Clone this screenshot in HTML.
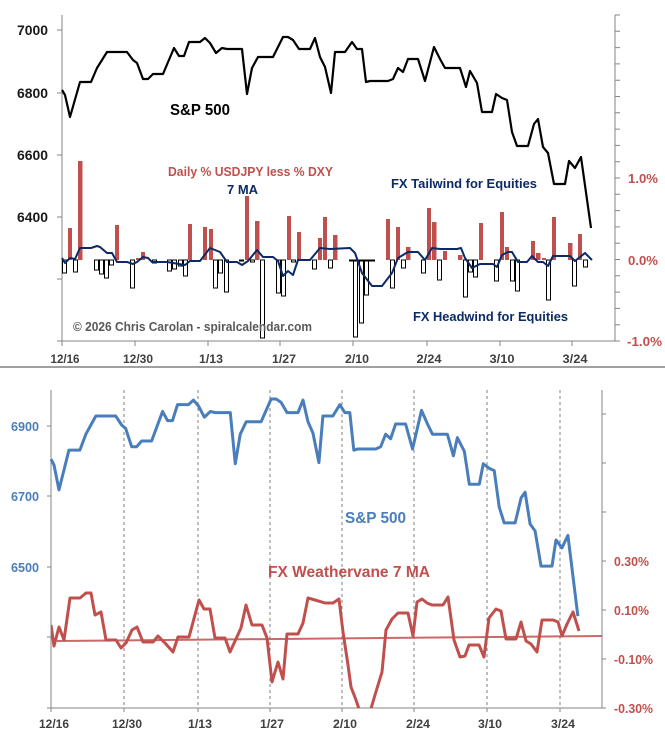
<!DOCTYPE html>
<html><head><meta charset="utf-8"><style>
html,body{margin:0;padding:0;background:#fff;}
svg{display:block;}
text{font-family:"Liberation Sans",sans-serif;font-weight:bold;}
</style></head><body>
<svg width="665" height="742" viewBox="0 0 665 742" xmlns="http://www.w3.org/2000/svg">
<rect width="665" height="742" fill="#fff"/>
<defs><clipPath id="cb"><rect x="51" y="390" width="551" height="318"/></clipPath></defs>

<!-- ===== TOP CHART ===== -->
<g stroke="#868686" stroke-width="1" fill="none">
<line x1="62" y1="15" x2="62" y2="341"/>
<line x1="62" y1="341" x2="615" y2="341"/>
<line x1="615" y1="15" x2="615" y2="341"/>
<path d="M57 30H62M57 93H62M57 155H62M57 217H62M57 279H62M57 341H62"/>
<path d="M62 341V346M135 341V346M208 341V346M280 341V346M353 341V346M427 341V346M500 341V346M572 341V346"/>
<path d="M615 15H620M615 31.3H620M615 47.6H620M615 63.9H620M615 80.2H620M615 96.5H620M615 112.8H620M615 129.1H620M615 145.4H620M615 161.7H620M615 178H620M615 194.3H620M615 210.6H620M615 226.9H620M615 243.2H620M615 259.5H620M615 275.8H620M615 292.1H620M615 308.4H620M615 324.7H620M615 341H620"/>
</g>

<!-- red bars -->
<g fill="#C0504D">
<rect x="68" y="228" width="4" height="32"/>
<rect x="78" y="161" width="4.5" height="99"/>
<rect x="115" y="225" width="4" height="35"/>
<rect x="136" y="258" width="4" height="2"/>
<rect x="141" y="252" width="4" height="8"/>
<rect x="188" y="224" width="4" height="36"/>
<rect x="203" y="227" width="4" height="33"/>
<rect x="209" y="229" width="4" height="31"/>
<rect x="245" y="196" width="4" height="64"/>
<rect x="255" y="221" width="4.5" height="39"/>
<rect x="287" y="216" width="4" height="44"/>
<rect x="297" y="232" width="4" height="28"/>
<rect x="318" y="238" width="4" height="22"/>
<rect x="323" y="217" width="4" height="43"/>
<rect x="333" y="235" width="4.5" height="25"/>
<rect x="386" y="219" width="4" height="41"/>
<rect x="396" y="227" width="4" height="33"/>
<rect x="406" y="247" width="4.5" height="13"/>
<rect x="427" y="208" width="4" height="52"/>
<rect x="432" y="222" width="4.5" height="38"/>
<rect x="443" y="251" width="4" height="9"/>
<rect x="458" y="255" width="4.5" height="5"/>
<rect x="479" y="223" width="4" height="37"/>
<rect x="500" y="212" width="4" height="48"/>
<rect x="505" y="247" width="4" height="13"/>
<rect x="531" y="241" width="4" height="19"/>
<rect x="536" y="253" width="4.5" height="7"/>
<rect x="542" y="258" width="4" height="2"/>
<rect x="552" y="217" width="4" height="43"/>
<rect x="568" y="243" width="4.5" height="17"/>
<rect x="578" y="234" width="4" height="26"/>
</g>
<!-- white bars -->
<g fill="#fff" stroke="#000" stroke-width="1">
<rect x="62.5" y="260" width="4" height="13"/>
<rect x="73.5" y="260" width="4" height="12"/>
<rect x="94.5" y="260" width="4" height="10"/>
<rect x="99.5" y="260" width="4" height="14"/>
<rect x="104.5" y="260" width="4" height="18"/>
<rect x="109.5" y="260" width="4" height="5"/>
<rect x="130.5" y="260" width="4" height="28"/>
<rect x="152.5" y="260" width="4" height="3"/>
<rect x="167.5" y="260" width="4" height="11"/>
<rect x="172.5" y="260" width="4" height="9"/>
<rect x="178.5" y="260" width="4" height="6"/>
<rect x="183.5" y="260" width="4" height="16"/>
<rect x="213.5" y="260" width="4" height="28"/>
<rect x="218.5" y="260" width="4" height="13"/>
<rect x="224.5" y="260" width="4" height="32"/>
<rect x="239.5" y="260" width="4" height="1"/>
<rect x="250.5" y="260" width="4" height="2"/>
<rect x="260.5" y="260" width="4" height="78"/>
<rect x="276.5" y="260" width="4" height="33"/>
<rect x="281.5" y="260" width="4" height="36"/>
<rect x="291.5" y="260" width="4" height="2"/>
<rect x="312.5" y="260" width="4" height="9"/>
<rect x="328.5" y="260" width="4" height="8"/>
<rect x="353.5" y="260" width="4" height="77"/>
<rect x="359.5" y="260" width="4" height="63"/>
<rect x="364.5" y="260" width="4" height="35"/>
<rect x="390.5" y="260" width="4" height="28"/>
<rect x="401.5" y="260" width="4" height="8"/>
<rect x="421.5" y="260" width="4" height="13"/>
<rect x="437.5" y="260" width="4" height="20"/>
<rect x="463.5" y="260" width="4" height="37"/>
<rect x="468.5" y="260" width="4" height="12"/>
<rect x="473.5" y="260" width="4" height="17"/>
<rect x="494.5" y="260" width="4" height="21"/>
<rect x="510.5" y="260" width="4" height="21"/>
<rect x="515.5" y="260" width="4" height="31"/>
<rect x="546.5" y="260" width="4" height="40"/>
<rect x="572.5" y="260" width="4" height="26"/>
<rect x="583.5" y="260" width="4" height="7"/>
</g>
<line x1="349" y1="260.5" x2="375" y2="260.5" stroke="#000" stroke-width="2"/>

<!-- 7 MA -->
<polyline fill="none" stroke="#0B2A66" stroke-width="2" stroke-linejoin="round" points="62,258 65,263 70,258 75,259 80,248 91,248 97,246 100,247 107,253 112,253 117,262 127,262 133,264 137,262 143,257 148,258 152,262 167,262 173,263 185,265 190,261 200,261 210,248 220,252 227,262 237,262 242,265 248,261 257,250 263,257 273,257 278,261 283,276 288,271 293,275 298,260 310,260 320,248 330,249 350,248 355,253 362,273 372,286 382,286 392,273 398,258 408,252 418,252 425,260 432,248 440,249 457,249 461,248 465,258 472,268 480,264 493,264 497,267 502,255 508,252 512,252 518,262 527,262 532,256 538,262 543,262 548,266 553,256 570,256 575,261 585,253 592,260"/>

<!-- S&P top -->
<polyline id="spx" fill="none" stroke="#000" stroke-width="2.2" stroke-linejoin="round" points="62,90 65,95 70,117 80,82 91,82 97,68 107,52 127,52 133,60 137,63 143,79 148,79 153,74 163,74 174,48 179,56 184,56 189,42 200,42 205,38 210,43 216,53 222,48 227,49 242,49 247,94 252,68 258,57 273,57 283,37 288,37 293,40 299,49 310,49 315,38 320,57 325,67 331,93 335,52 345,52 352,42 357,49 362,49 366,82 370,81 388,81 393,79 398,68 403,72 408,59 418,59 425,81 434,47 440,59 445,68 460,68 466,87 470,71 477,83 482,112 492,112 496,94 502,98 507,100 512,132 517,146 528,146 534,124 538,119 543,147 548,153 554,184 565,184 569,161 575,168 581,157 591,228"/>

<!-- top labels -->
<g fill="#1a1a1a" font-size="14" text-anchor="end">
<text x="48" y="35" textLength="31" lengthAdjust="spacingAndGlyphs">7000</text>
<text x="48" y="98" textLength="31" lengthAdjust="spacingAndGlyphs">6800</text>
<text x="48" y="160" textLength="31" lengthAdjust="spacingAndGlyphs">6600</text>
<text x="48" y="222" textLength="31" lengthAdjust="spacingAndGlyphs">6400</text>
</g>
<g fill="#C0504D" font-size="13">
<text x="628" y="183" textLength="30" lengthAdjust="spacingAndGlyphs">1.0%</text>
<text x="628" y="265" textLength="30" lengthAdjust="spacingAndGlyphs">0.0%</text>
<text x="627" y="346" textLength="35" lengthAdjust="spacingAndGlyphs">-1.0%</text>
</g>
<g fill="#404040" font-size="12" text-anchor="middle">
<text x="65" y="363" textLength="29" lengthAdjust="spacingAndGlyphs">12/16</text>
<text x="138" y="363" textLength="30" lengthAdjust="spacingAndGlyphs">12/30</text>
<text x="211" y="363" textLength="24" lengthAdjust="spacingAndGlyphs">1/13</text>
<text x="284" y="363" textLength="24" lengthAdjust="spacingAndGlyphs">1/27</text>
<text x="357" y="363" textLength="24" lengthAdjust="spacingAndGlyphs">2/10</text>
<text x="429" y="363" textLength="25" lengthAdjust="spacingAndGlyphs">2/24</text>
<text x="502" y="363" textLength="25" lengthAdjust="spacingAndGlyphs">3/10</text>
<text x="575" y="363" textLength="25" lengthAdjust="spacingAndGlyphs">3/24</text>
</g>
<text x="170" y="115" font-size="16" fill="#000" textLength="60" lengthAdjust="spacingAndGlyphs">S&amp;P 500</text>
<text x="168" y="176" font-size="13" fill="#C0504D" textLength="165" lengthAdjust="spacingAndGlyphs">Daily % USDJPY less % DXY</text>
<text x="227" y="194" font-size="13" fill="#0B2A66" textLength="31" lengthAdjust="spacingAndGlyphs">7 MA</text>
<text x="391" y="188" font-size="13" fill="#0B2A66" textLength="146" lengthAdjust="spacingAndGlyphs">FX Tailwind for Equities</text>
<text x="413" y="321" font-size="13" fill="#0B2A66" textLength="155" lengthAdjust="spacingAndGlyphs">FX Headwind for Equities</text>
<text x="73" y="331" font-size="13" fill="#595959" textLength="239" lengthAdjust="spacingAndGlyphs">© 2026 Chris Carolan - spiralcalendar.com</text>

<!-- separator -->
<line x1="0" y1="367" x2="665" y2="367" stroke="#808080" stroke-width="1.5"/>

<!-- ===== BOTTOM CHART ===== -->
<g stroke="#7f7f7f" stroke-width="1" stroke-dasharray="3,3" fill="none">
<path d="M124 390V708M198 390V708M270 390V708M342 390V708M414 390V708M487 390V708M560 390V708"/>
</g>
<g stroke="#868686" stroke-width="1" fill="none">
<line x1="51" y1="390" x2="51" y2="708"/>
<line x1="51" y1="708" x2="602" y2="708"/>
<line x1="602" y1="390" x2="602" y2="708"/>
<path d="M47 426H51M47 496H51M47 567H51M47 637H51M47 708H51"/>
<path d="M602 414H606M602 463H606M602 512H606M602 561H606M602 610H606M602 659H606M602 708H606"/>
<path d="M51 708V712M124 708V712M198 708V712M270 708V712M342 708V712M414 708V712M487 708V712M560 708V712"/>
</g>

<!-- trendline -->
<line x1="57" y1="641" x2="602" y2="636" stroke="#C0504D" stroke-opacity="0.85" stroke-width="2"/>

<!-- FX weathervane -->
<polyline clip-path="url(#cb)" fill="none" stroke="#C0504D" stroke-width="3" stroke-linejoin="round" points="51,625 54,646 59,627 64,640 70,598 80,598 86,593 91,593 95,615 101,612 106,640 116,640 121,648 126,643 132,630 137,627 143,642 153,642 158,636 165,643 173,652 178,637 189,637 199,600 204,609 210,609 215,638 225,638 230,652 241,628 246,605 252,625 262,625 267,638 272,682 278,662 283,679 287,634 298,634 303,623 308,598 315,600 325,603 333,603 339,599 343,632 348,665 351,687 356,700 360,712 370,712 375,695 382,672 386,630 392,619 398,613 408,613 413,636 417,602 422,599 427,603 432,605 443,605 448,597 454,640 460,657 465,656 469,645 479,645 484,657 489,618 496,609 501,611 506,639 516,639 521,622 526,641 531,644 537,652 542,620 553,620 558,622 562,636 567,624 573,612 579,631"/>

<!-- S&P bottom (same data, rescaled) -->
<g transform="matrix(0.996 0 0 1.137 -10.75 356.9)">
<polyline fill="none" stroke="#4A7EBB" stroke-width="3" stroke-linejoin="round" vector-effect="non-scaling-stroke" points="62,90 65,95 70,117 80,82 91,82 97,68 107,52 127,52 133,60 137,63 143,79 148,79 153,74 163,74 174,48 179,56 184,56 189,42 200,42 205,38 210,43 216,53 222,48 227,49 242,49 247,94 252,68 258,57 273,57 283,37 288,37 293,40 299,49 310,49 315,38 320,57 325,67 331,93 335,52 345,52 352,42 357,49 362,49 366,82 370,81 388,81 393,79 398,68 403,72 408,59 418,59 425,81 434,47 440,59 445,68 460,68 466,87 470,71 477,83 482,112 492,112 496,94 502,98 507,100 512,132 517,146 528,146 534,124 538,119 543,147 548,153 554,184 565,184 569,161 575,168 581,157 591,228"/>
</g>

<!-- bottom labels -->
<g fill="#4A7EBB" font-size="13" text-anchor="end">
<text x="39" y="431" textLength="28" lengthAdjust="spacingAndGlyphs">6900</text>
<text x="39" y="501" textLength="28" lengthAdjust="spacingAndGlyphs">6700</text>
<text x="39" y="572" textLength="28" lengthAdjust="spacingAndGlyphs">6500</text>
</g>
<g fill="#C0504D" font-size="13">
<text x="614" y="566" textLength="35" lengthAdjust="spacingAndGlyphs">0.30%</text>
<text x="614" y="615" textLength="35" lengthAdjust="spacingAndGlyphs">0.10%</text>
<text x="614" y="664" textLength="39" lengthAdjust="spacingAndGlyphs">-0.10%</text>
<text x="614" y="713" textLength="39" lengthAdjust="spacingAndGlyphs">-0.30%</text>
</g>
<g fill="#404040" font-size="12" text-anchor="middle">
<text x="54" y="728" textLength="30" lengthAdjust="spacingAndGlyphs">12/16</text>
<text x="127" y="728" textLength="30" lengthAdjust="spacingAndGlyphs">12/30</text>
<text x="200" y="728" textLength="24" lengthAdjust="spacingAndGlyphs">1/13</text>
<text x="272" y="728" textLength="24" lengthAdjust="spacingAndGlyphs">1/27</text>
<text x="345" y="728" textLength="24" lengthAdjust="spacingAndGlyphs">2/10</text>
<text x="418" y="728" textLength="24" lengthAdjust="spacingAndGlyphs">2/24</text>
<text x="490" y="728" textLength="24" lengthAdjust="spacingAndGlyphs">3/10</text>
<text x="563" y="728" textLength="24" lengthAdjust="spacingAndGlyphs">3/24</text>
</g>
<text x="345" y="523" font-size="16" fill="#4A7EBB" textLength="61" lengthAdjust="spacingAndGlyphs">S&amp;P 500</text>
<text x="268" y="577" font-size="16" fill="#C0504D" textLength="162" lengthAdjust="spacingAndGlyphs">FX Weathervane 7 MA</text>
</svg>
</body></html>
